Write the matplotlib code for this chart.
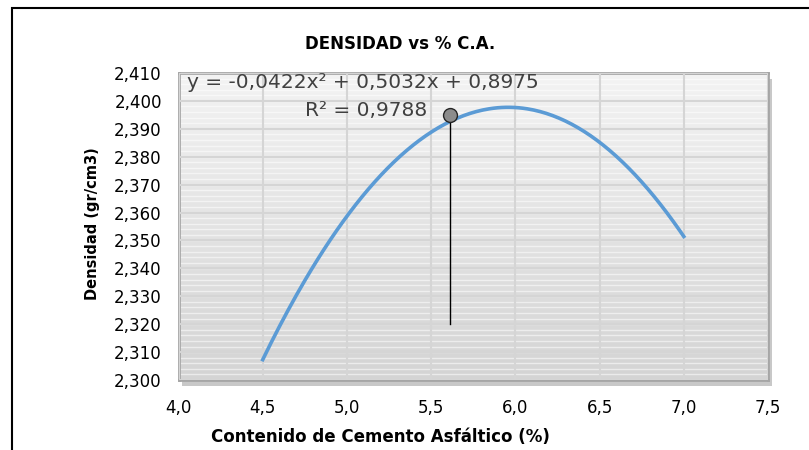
import numpy as np
import matplotlib
matplotlib.use('Agg')
import matplotlib.pyplot as plt
from matplotlib.ticker import FuncFormatter, MultipleLocator
from matplotlib.patches import Rectangle

# valores (tendencia polinomica de orden 2)
contenido_ca = [4.5, 5.0, 5.5, 6.0, 6.5, 7.0]
densidad = [2.307, 2.359, 2.389, 2.398, 2.384, 2.352]
marca_x = 5.61
marca_y = [2.320, 2.395]
ecuacion = 'y = -0,0422x² + 0,5032x + 0,8975'
r2 = 'R² = 0,9788'

plt.rcParams['font.family'] = ['DejaVu Sans']

fig = plt.figure(figsize=(8.09, 4.50), dpi=100)
ax = fig.add_axes([178.5 / 809, 1 - 380 / 450, (768 - 178.5) / 809, (380 - 73) / 450])
ax.set_zorder(3)

# marco exterior del grafico (cortado a la derecha y abajo)
fig.patches.append(Rectangle((12 / 809, -0.1), 1.2, 1 - 8 / 450 + 0.1,
                             transform=fig.transFigure, fill=False,
                             edgecolor='black', lw=1.5, zorder=0))
# sombra del area de trazado
fig.patches.append(Rectangle((182 / 809, 1 - 386 / 450), (768 - 178.5) / 809, (380 - 73) / 450,
                             transform=fig.transFigure, facecolor='#c8c8c8',
                             edgecolor='none', zorder=1))

# fondo degradado
grad = np.linspace(0, 1, 256).reshape(-1, 1)
ax.imshow(grad, extent=[0, 1, 0, 1], transform=ax.transAxes, aspect='auto',
          cmap=matplotlib.colors.LinearSegmentedColormap.from_list('g', ['#f3f3f3', '#d4d4d4']),
          origin='upper', zorder=0)

ax.set_xlim(4.0, 7.5)
ax.set_ylim(2.300, 2.410)
ax.xaxis.set_major_locator(MultipleLocator(0.5))
ax.yaxis.set_major_locator(MultipleLocator(0.01))
ax.xaxis.set_major_formatter(FuncFormatter(lambda v, p: f'{v:.1f}'.replace('.', ',')))
ax.yaxis.set_major_formatter(FuncFormatter(lambda v, p: f'{v:.3f}'.replace('.', ',')))

# lineas finas horizontales
for yy in np.arange(2.300, 2.410, 0.002):
    ax.axhline(yy, color='white', lw=1.0, alpha=0.55, zorder=1)
ax.grid(True, color='#d5d5d5', lw=1.5, zorder=2)
ax.set_axisbelow(False)

for s in ax.spines.values():
    s.set_color('#a6a6a6')
    s.set_linewidth(2)
ax.tick_params(length=0, labelsize=12)
ax.tick_params(axis='y', pad=12)
ax.tick_params(axis='x', pad=14)

coef = np.polyfit(contenido_ca, densidad, 2)
xs = np.linspace(min(contenido_ca), max(contenido_ca), 200)
ax.plot(xs, np.polyval(coef, xs), color='#5b9bd5', lw=2.6, zorder=5)

ax.plot([marca_x, marca_x], marca_y, color='black', lw=1, zorder=6)
ax.plot(marca_x, marca_y[1], 'o', ms=10, mfc='#8c8c8c', mec='#262626', mew=1, zorder=7)

fig.text(187 / 809, 1 - 83 / 450, ecuacion, fontsize=14.5,
         va='center', ha='left', color='#404040', zorder=8)
fig.text(427 / 809, 1 - 110 / 450, r2, fontsize=14.5,
         va='center', ha='right', color='#404040', zorder=8)

fig.text(400 / 809, 1 - 44 / 450, 'DENSIDAD vs % C.A.', fontsize=12,
         fontweight='bold', ha='center', va='center')
fig.text(380 / 809, 1 - 437 / 450, 'Contenido de Cemento Asfáltico (%)',
         fontsize=12, fontweight='bold', ha='center', va='center')
fig.text(93 / 809, 1 - 224 / 450, 'Densidad (gr/cm3)', fontsize=10.5,
         fontweight='bold', ha='center', va='center', rotation=90)

fig.savefig('out.png', dpi=100)
